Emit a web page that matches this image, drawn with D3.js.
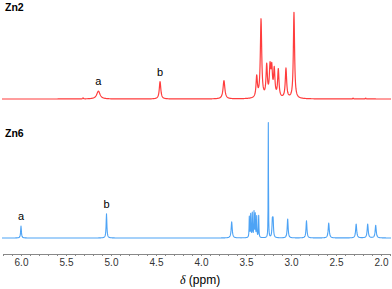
<!DOCTYPE html>
<html lang="en">
<head>
<meta charset="UTF-8">
<title>NMR Zn2 / Zn6</title>
<script src="https://cdn.jsdelivr.net/npm/d3@7"></script>
<style>
    body { margin: 0; background: #fff; }
    svg { display: block; font-family: "Liberation Sans", Arial, sans-serif; }
    .name { font-weight: bold; font-size: 10.5px; fill: #000; }
    .peak-label { font-size: 11px; fill: #000; text-anchor: middle; }
    .axis path, .axis line { stroke: #888; }
    .axis text { font-size: 10px; fill: #333; font-family: "Liberation Sans", Arial, sans-serif; }
</style>
</head>
<body>
<div id="chart"></div>
<script>
    // chemical shift axis
    const xDomain = [6.2, 1.9];
    const majorTicks = [6.0, 5.5, 5.0, 4.5, 4.0, 3.5, 3.0, 2.5, 2.0];

    // Zn2 peaks: shift (ppm), relative height, half width (ppm)
    const zn2Shift  = [5.14, 4.455, 3.745, 3.381, 3.333, 3.27, 3.233, 3.214, 3.186, 3.141, 3.056, 2.967, 5.31, 2.31, 2.17];
    const zn2Height = [9, 20, 21, 24, 90, 36, 33, 31, 31, 32, 34, 99, 1.2, 1, 1];
    const zn2Width  = [0.022, 0.01, 0.012, 0.009, 0.009, 0.009, 0.009, 0.009, 0.009, 0.009, 0.009, 0.008, 0.004, 0.004, 0.004];

    // Zn6 peaks
    const zn6Shift  = [6.0, 5.05, 3.659, 3.463, 3.448, 3.430, 3.411, 3.397, 3.381, 3.359, 3.252, 3.207, 3.199, 3.037, 2.828, 2.581, 2.276, 2.148, 2.059];
    const zn6Height = [10.4, 21, 14, 18, 20, 21, 22, 20, 18, 19, 100, 14, 14, 16.5, 15, 13, 12, 12, 11];
    const zn6Width  = [0.005, 0.005, 0.007, 0.003, 0.003, 0.003, 0.003, 0.003, 0.003, 0.003, 0.002, 0.005, 0.005, 0.006, 0.006, 0.007, 0.007, 0.007, 0.007];

    const labelsZn2 = [{t: "a", s: 5.14, h: 9}, {t: "b", s: 4.455, h: 20}];
    const labelsZn6 = [{t: "a", s: 6.0, h: 10.4}, {t: "b", s: 5.05, h: 21}];

    const width = 392, height = 289;
    const svg = d3.select("#chart").append("svg")
        .attr("width", width)
        .attr("height", height);

    const x = d3.scaleLinear().domain(xDomain).range([3, 390]);
    const yRed = d3.scaleLinear().domain([0, 100]).range([99, 12]);
    const yBlue = d3.scaleLinear().domain([0, 100]).range([238, 123]);

    function spectrum(shifts, heights, widths) {
        // sample every quarter pixel plus the exact peak centres
        let xs = [];
        for (let px = 2; px <= 391; px += 0.25) xs.push(x.invert(px));
        xs = xs.concat(shifts).sort((a, b) => b - a);
        return xs.map(s => {
            let v = 0;
            for (let i = 0; i < shifts.length; i++) {
                let w = widths[i], d = s - shifts[i];
                v += heights[i] * w * w / (d * d + w * w);
            }
            return [s, v];
        });
    }

    function drawSpectrum(pts, y, color, sw) {
        let line = d3.line()
            .x(d => x(d[0]))
            .y(d => y(d[1]));
        svg.append("path")
            .datum(pts)
            .attr("d", line)
            .attr("fill", "none")
            .attr("stroke", color)
            .attr("stroke-width", sw)
            .attr("stroke-linejoin", "round");
    }

    drawSpectrum(spectrum(zn2Shift, zn2Height, zn2Width), yRed, "#ff3d3d", 1.2);
    drawSpectrum(spectrum(zn6Shift, zn6Height, zn6Width), yBlue, "#4da3f5", 1.1);

    svg.append("text").attr("class", "name").attr("x", 5).attr("y", 11).text("Zn2");
    svg.append("text").attr("class", "name").attr("x", 5).attr("y", 137).text("Zn6");

    svg.selectAll(".lab-red").data(labelsZn2).enter().append("text")
        .attr("class", "peak-label")
        .attr("x", d => x(d.s))
        .attr("y", d => yRed(d.h) - 6)
        .text(d => d.t);
    svg.selectAll(".lab-blue").data(labelsZn6).enter().append("text")
        .attr("class", "peak-label")
        .attr("x", d => x(d.s))
        .attr("y", d => yBlue(d.h) - 6)
        .text(d => d.t);

    // axis
    const axisY = 254;
    svg.append("g")
        .attr("class", "axis")
        .attr("transform", "translate(0," + axisY + ")")
        .call(d3.axisBottom(x).tickValues(d3.range(62, 18, -1).map(v => v / 10)).tickSize(2).tickSizeOuter(0).tickFormat(""));
    svg.append("g")
        .attr("class", "axis")
        .attr("transform", "translate(0," + axisY + ")")
        .call(d3.axisBottom(x).tickValues(majorTicks).tickSize(2).tickSizeOuter(0).tickPadding(3).tickFormat(d3.format(".1f")))
        .call(g => g.select(".domain").remove());

    let title = svg.append("text")
        .attr("x", 200)
        .attr("y", 284)
        .attr("text-anchor", "middle")
        .style("font-size", "12px")
        .style("font-family", "Liberation Sans, Arial, sans-serif");
    title.append("tspan").style("font-style", "italic").style("font-family", "Liberation Serif, serif").text("δ");
    title.append("tspan").text(" (ppm)");
</script>
</body>
</html>
